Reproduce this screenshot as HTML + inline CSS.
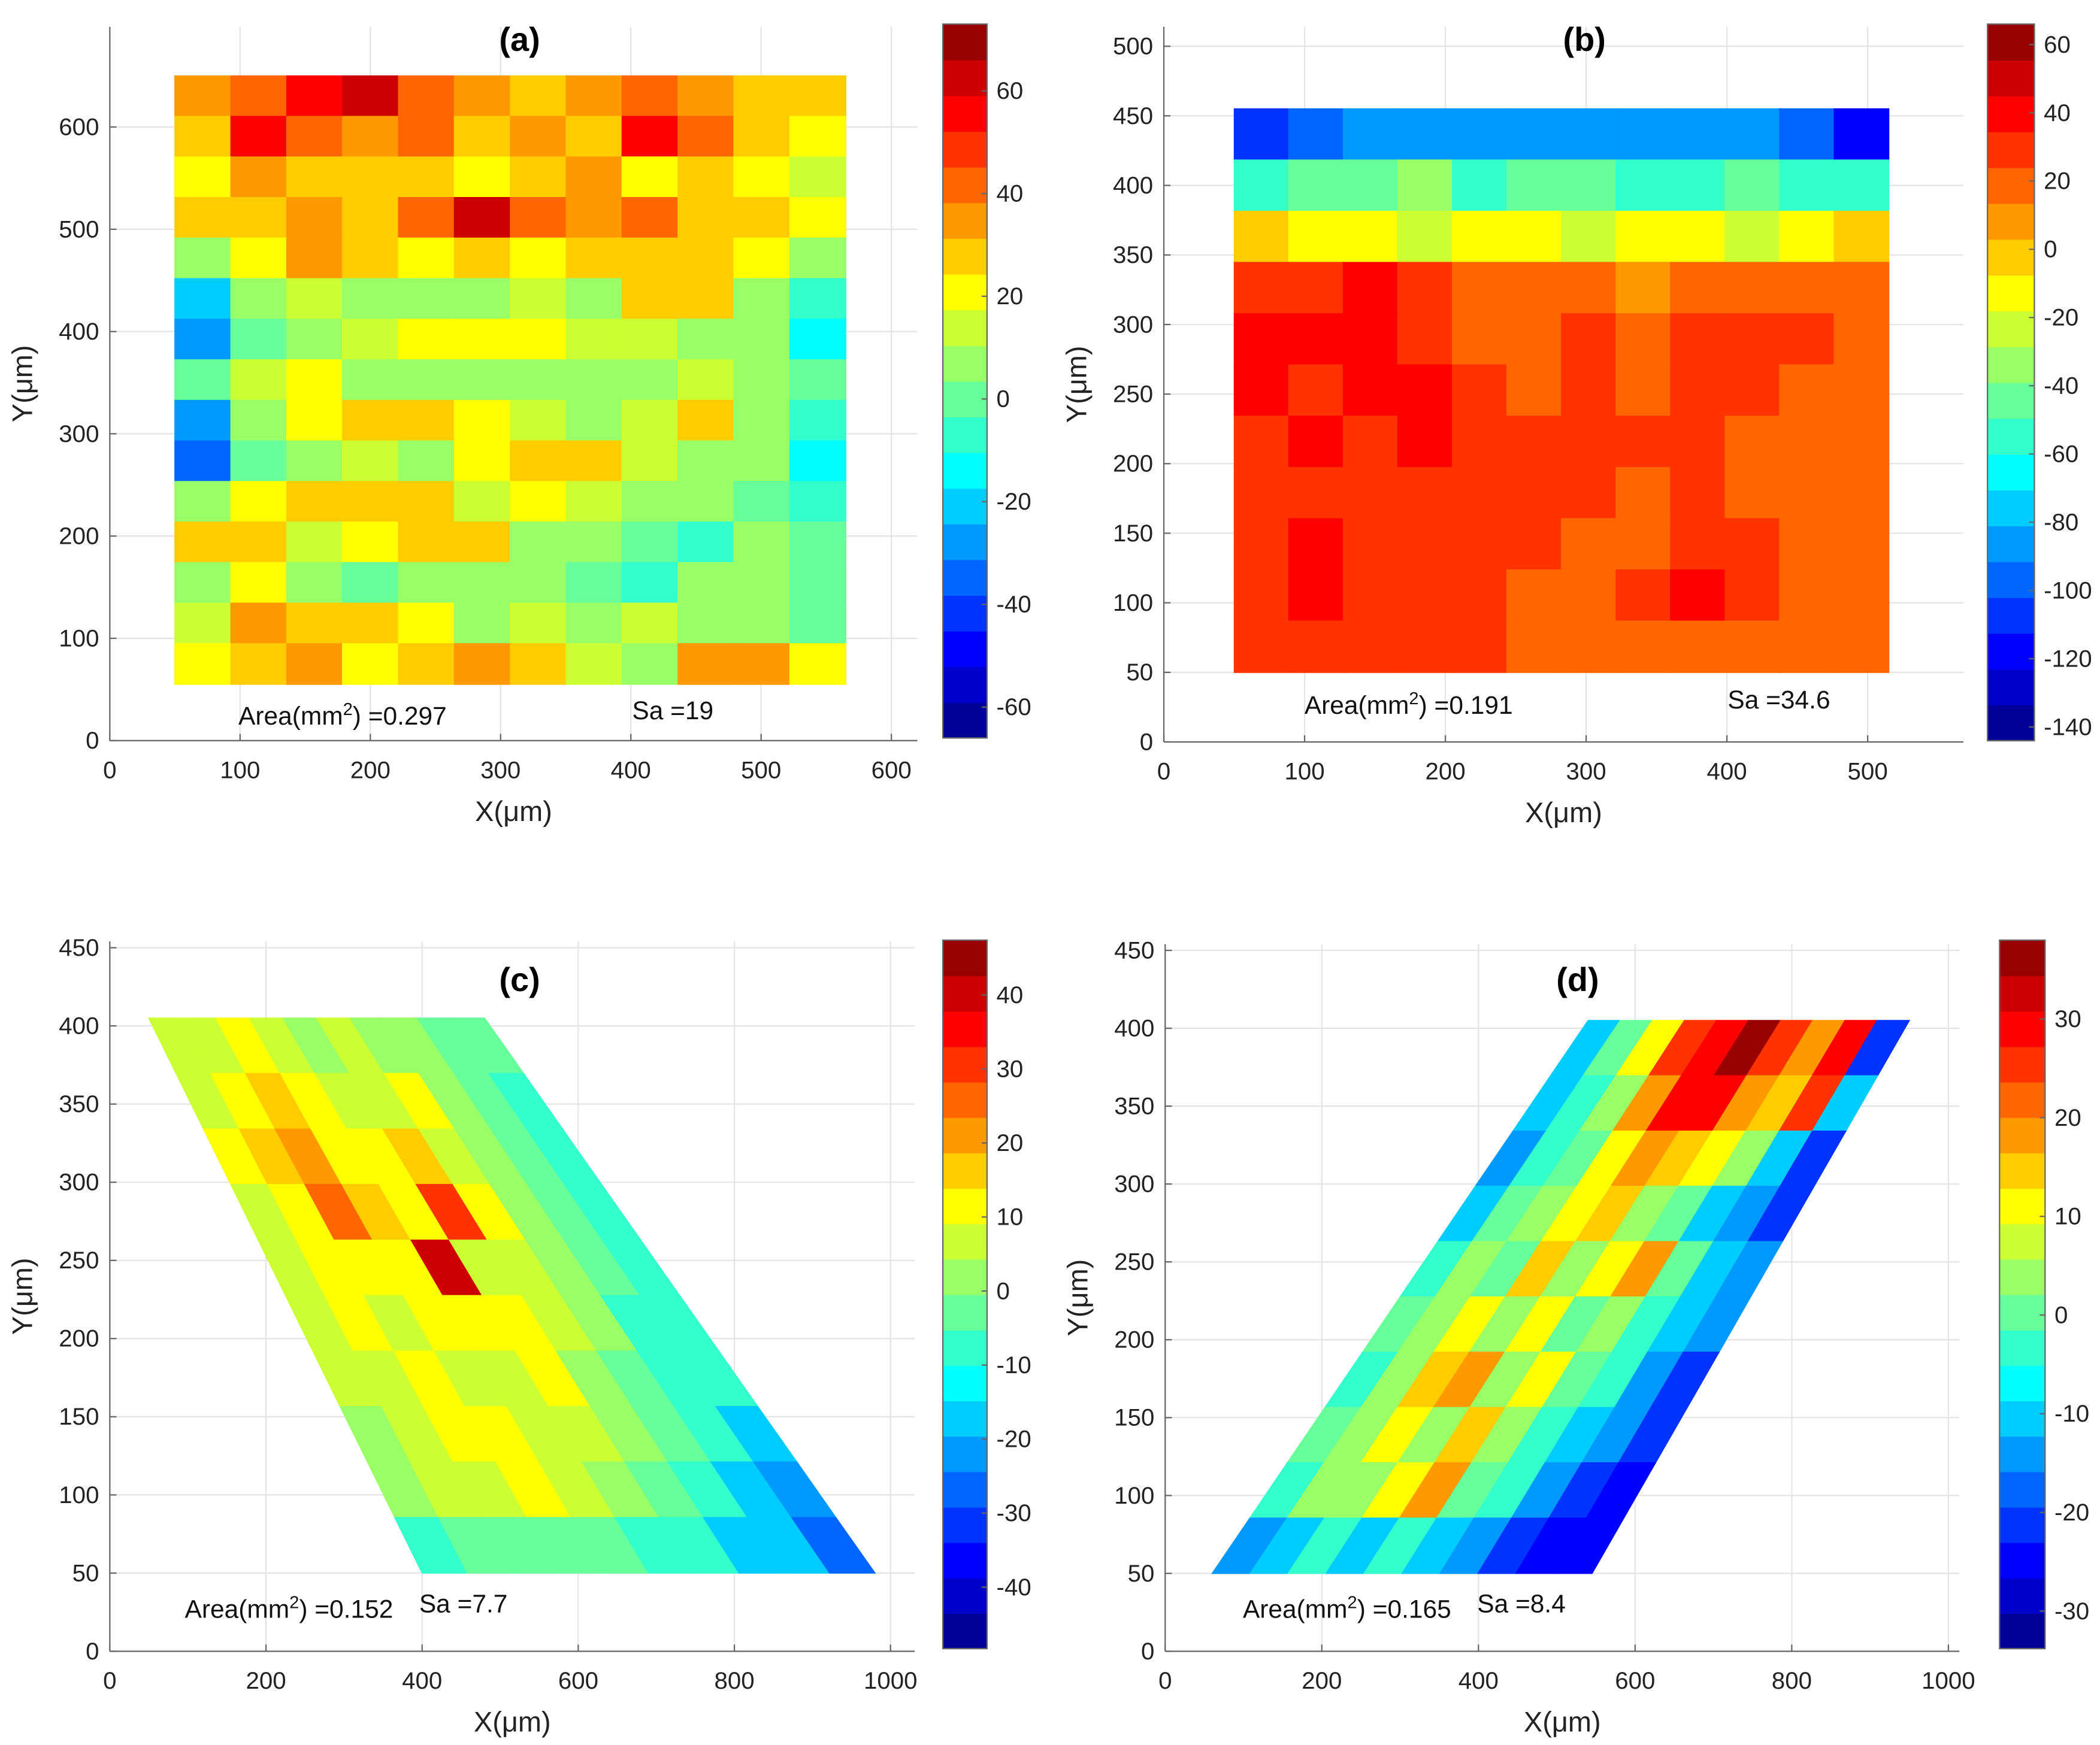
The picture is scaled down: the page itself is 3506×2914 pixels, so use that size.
<!DOCTYPE html>
<html><head><meta charset="utf-8"><style>
html,body{margin:0;padding:0;background:#fff;}
svg{display:block;font-family:"Liberation Sans",sans-serif;}
</style></head><body>
<svg id="fig" xmlns="http://www.w3.org/2000/svg" width="3506" height="2914" viewBox="0 0 1568 1303" preserveAspectRatio="none"></svg>
<script>
const gridA = [
[35,45,55,60,40,35,30,35,40,35,30,25],
[30,55,40,35,45,30,35,30,55,40,30,20],
[20,35,30,25,25,20,30,35,20,25,20,15],
[25,30,35,30,40,60,40,35,45,30,25,20],
[10,20,35,25,20,25,20,25,30,25,20,10],
[-20,5,15,10,5,10,15,10,25,30,10,-10],
[-30,0,10,15,20,20,20,15,15,10,5,-15],
[0,15,20,10,10,5,10,10,5,15,10,0],
[-25,5,20,25,30,20,15,10,15,25,10,-5],
[-35,0,10,15,10,20,30,25,15,10,5,-15],
[10,20,25,30,25,15,20,15,10,5,0,-5],
[30,25,15,20,30,25,10,5,0,-5,5,0],
[10,20,5,0,5,10,5,0,-5,5,10,0],
[15,35,25,30,20,10,15,10,15,5,5,0],
[20,30,35,20,30,35,25,15,10,35,35,20]];
const gridB = [
[-110,-95,-85,-85,-90,-85,-85,-90,-85,-85,-95,-115],
[-60,-45,-40,-35,-50,-40,-40,-50,-50,-40,-50,-60],
[-5,-10,-15,-20,-15,-15,-20,-10,-15,-20,-10,-5],
[25,30,35,25,15,15,20,10,15,15,15,15],
[40,35,35,30,20,20,25,20,25,25,30,20],
[40,30,40,35,25,20,25,20,25,25,20,20],
[30,35,30,35,25,30,25,30,25,20,15,15],
[25,30,25,25,25,30,25,20,25,15,20,15],
[30,40,25,30,25,25,20,20,30,25,20,15],
[30,40,30,30,25,20,20,25,35,25,20,15],
[25,30,25,25,25,20,20,15,20,20,20,15]];
const gridC = [
[5,5,10,5,0,5,0,0,-5,-5],
[5,10,15,10,5,5,10,0,-5,-10],
[10,15,20,10,10,15,5,0,-5,-10],
[5,10,25,15,10,30,10,0,-5,-10],
[5,10,10,10,40,5,5,0,-5,-10],
[5,10,5,10,10,10,5,0,-10,-10],
[5,5,10,5,5,10,0,-5,-10,-10],
[0,5,10,10,5,5,0,-5,-10,-15],
[0,5,5,10,5,0,-5,-10,-15,-20],
[-10,-5,-5,-5,-5,-10,-10,-15,-15,-25]];
const gridD = [
[-10,0,10,25,30,35,25,20,30,-20],
[-10,-5,5,20,30,30,20,15,25,-10],
[-15,-5,0,10,20,15,10,5,-10,-20],
[-10,0,5,10,15,5,0,-10,-15,-20],
[-5,5,0,15,5,10,20,0,-10,-15],
[0,5,10,5,10,0,5,-5,-10,-15],
[-5,5,15,20,5,10,0,-5,-15,-20],
[0,5,10,5,15,5,-5,-10,-15,-20],
[-5,5,5,10,20,0,-5,-15,-20,-25],
[-15,-10,-5,-10,-5,-10,-15,-20,-25,-25]];
const xTicksA=[0,100,200,300,400,500,600], yTicksA=[0,100,200,300,400,500,600], cTicksA=[60,40,20,0,-20,-40,-60];
const xTicksB=[0,100,200,300,400,500], yTicksB=[0,50,100,150,200,250,300,350,400,450,500], cTicksB=[60,40,20,0,-20,-40,-60,-80,-100,-120,-140];
const xTicksC=[0,200,400,600,800,1000], yTicksC=[0,50,100,150,200,250,300,350,400,450], cTicksC=[40,30,20,10,0,-10,-20,-30,-40];
const xTicksD=[0,200,400,600,800,1000], yTicksD=[0,50,100,150,200,250,300,350,400,450], cTicksD=[30,20,10,0,-10,-20,-30];

const NS="http://www.w3.org/2000/svg";
const svg=document.getElementById('fig');
function mk(tag,attrs,parent,txt){const e=document.createElementNS(NS,tag);for(const k in attrs)e.setAttribute(k,attrs[k]);if(txt!==undefined)e.textContent=txt;(parent||svg).appendChild(e);return e;}
function jet(v,lo,hi){let t=(v-lo)/(hi-lo);t=Math.max(0,Math.min(0.999,t));t=(Math.floor(t*20)+0.5)/20;
 const c=x=>Math.round(255*Math.max(0,Math.min(1,x)));
 return `rgb(${c(1.5-Math.abs(4*t-3))},${c(1.5-Math.abs(4*t-2))},${c(1.5-Math.abs(4*t-1))})`;}

function panel(P){
 const g=mk('g',{});
 
 
 const X=v=>P.px0+(v-P.x0)/(P.x1-P.x0)*(P.px1-P.px0);
 const Y=v=>P.py0-(v-P.y0)/(P.y1-P.y0)*(P.py0-P.py1);
 P.xt.forEach(t=>{const l=mk('line',{x1:X(t),x2:X(t),y1:P.py0,y2:P.py1,stroke:'#e4e4e4','stroke-width':1},g);});
 P.yt.forEach(t=>{const l=mk('line',{x1:P.px0,x2:P.px1,y1:Y(t),y2:Y(t),stroke:'#e4e4e4','stroke-width':1},g);});
 const sg=mk('g',{},g);
 
 
 const G=P.grid, nr=G.length, nc=G[0].length;
 for(let i=0;i<nr;i++)for(let j=0;j<nc;j++){
  const col=jet(G[i][j],P.c0,P.c1);
  const v0=i/nr,v1=(i+1)/nr,u0=j/nc,u1=(j+1)/nc;
  const yy=v=>P.sy1-(P.sy1-P.sy0)*v;
  const lx=v=>P.lt+(P.lb-P.lt)*v, rx=v=>P.rt+(P.rb-P.rt)*v;
  const pt=(u,v)=>{const a=lx(v),b=rx(v);return X(a+(b-a)*u).toFixed(1)+','+Y(yy(v)).toFixed(1);};
  const p=mk('polygon',{points:[pt(u0,v0),pt(u1,v0),pt(u1,v1),pt(u0,v1)].join(' '),fill:col,stroke:col,'stroke-width':0.8},sg);
  
  
 }
 mk('line',{x1:P.px0,x2:P.px0,y1:P.py0,y2:P.py1,stroke:'#666','stroke-width':1},g);
 mk('line',{x1:P.px0,x2:P.px1,y1:P.py0,y2:P.py0,stroke:'#666','stroke-width':1},g);
 P.xt.forEach(t=>{mk('line',{x1:X(t),x2:X(t),y1:P.py0,y2:P.py0-5,stroke:'#666'},g);
  const e=mk('text',{x:X(t),y:P.py0+28,'text-anchor':'middle','font-size':18,fill:'#222'},g,t);});
 P.yt.forEach(t=>{mk('line',{x1:P.px0,x2:P.px0+5,y1:Y(t),y2:Y(t),stroke:'#666'},g);
  const e=mk('text',{x:P.px0-8,y:Y(t)+6,'text-anchor':'end','font-size':18,fill:'#222'},g,t);});
 let e=mk('text',{x:(P.px0+P.px1)/2,y:P.py0+60,'text-anchor':'middle','font-size':21,fill:'#222'},g,'X(μm)');
 e=mk('text',{x:0,y:0,transform:`translate(${P.px0-58},${(P.py0+P.py1)/2}) rotate(-90)`,'text-anchor':'middle','font-size':21,fill:'#222'},g,'Y(μm)');
 e=mk('text',{x:P.tx,y:P.ty,'text-anchor':'middle','font-size':25,'font-weight':'bold',fill:'#000'},g,'('+P.id+')');
 e=mk('text',{x:P.ax,y:P.ay,'font-size':19,fill:'#111'},g);
 mk('tspan',{},e,'Area(mm');mk('tspan',{'baseline-shift':'super','font-size':13},e,'2');mk('tspan',{},e,') ='+P.area);
 e=mk('text',{x:P.sx,y:P.ay-4,'font-size':19,fill:'#111'},g,'Sa ='+P.sa);
 const cb=mk('g',{},g);
 
 
 const C=v=>P.cy1-(v-P.c0)/(P.c1-P.c0)*(P.cy1-P.cy0);
 for(let k=0;k<20;k++){const lo=P.c0+(P.c1-P.c0)*k/20,hi=P.c0+(P.c1-P.c0)*(k+1)/20;
  const r=mk('rect',{x:P.cx,y:C(hi),width:P.cw,height:C(lo)-C(hi)+0.5,fill:jet((lo+hi)/2,P.c0,P.c1)},cb);}
 mk('rect',{x:P.cx,y:P.cy0,width:P.cw,height:P.cy1-P.cy0,fill:'none',stroke:'#666'},cb);
 P.ct.forEach(t=>{mk('line',{x1:P.cx+P.cw,x2:P.cx+P.cw-4,y1:C(t),y2:C(t),stroke:'#666'},cb);
  const q=mk('text',{x:P.cx+P.cw+7,y:C(t)+6,'font-size':18,fill:'#222'},cb,t);});
}
panel({id:'a',grid:gridA,x0:0,x1:620,px0:82,px1:685,y0:0,y1:698,py0:553,py1:20,xt:xTicksA,yt:yTicksA,
 sy0:55,sy1:650,lt:50,lb:50,rt:565,rb:565,c0:-66,c1:73,cx:704,cw:33,cy0:18,cy1:551,ct:cTicksA,
 tx:388,ty:38,ax:178,ay:541,sx:472,area:'0.297',sa:'19'});
panel({id:'b',grid:gridB,x0:0,x1:568,px0:869,px1:1466,y0:0,y1:514,py0:554,py1:20,xt:xTicksB,yt:yTicksB,
 sy0:50,sy1:455,lt:50,lb:50,rt:515,rb:515,c0:-144,c1:66,cx:1484,cw:35,cy0:18,cy1:553,ct:cTicksB,
 tx:1183,ty:38,ax:974,ay:533,sx:1290,area:'0.191',sa:'34.6'});
panel({id:'c',grid:gridC,x0:0,x1:1031,px0:82,px1:683,y0:0,y1:454,py0:1233,py1:703,xt:xTicksC,yt:yTicksC,
 sy0:50,sy1:405,lt:50,lb:400,rt:480,rb:980,c0:-48.3,c1:47.4,cx:704,cw:33,cy0:702,cy1:1231,ct:cTicksC,
 tx:388,ty:740,ax:138,ay:1208,sx:313,area:'0.152',sa:'7.7'});
panel({id:'d',grid:gridD,x0:0,x1:1014,px0:870,px1:1463,y0:0,y1:454,py0:1233,py1:705,xt:xTicksD,yt:yTicksD,
 sy0:50,sy1:405,lt:540,lb:60,rt:950,rb:545,c0:-33.8,c1:38,cx:1493,cw:34,cy0:702,cy1:1231,ct:cTicksD,
 tx:1178,ty:740,ax:928,ay:1208,sx:1103,area:'0.165',sa:'8.4'});
</script>
</body></html>
